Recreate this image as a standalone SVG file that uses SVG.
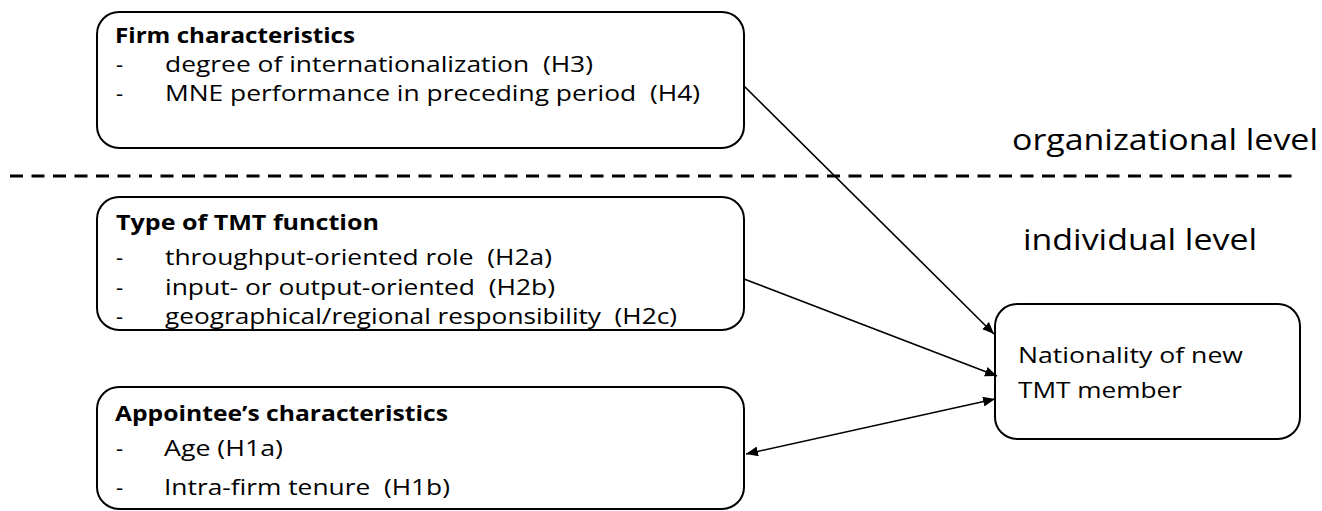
<svg xmlns="http://www.w3.org/2000/svg" width="1322" height="511" viewBox="0 0 1322 511">
<style>
.box{fill:#fff;stroke:#000;stroke-width:2}
.t{font-family:"Open Sans",Lato,sans-serif;font-size:22px;fill:#000;white-space:pre}
.b{font-weight:bold;font-size:22px}
.lvl{font-family:"Open Sans",Lato,sans-serif;font-size:29px;fill:#000}
.c{stroke:#000;stroke-width:1.6;fill:none}
</style>
<defs>
<marker id="ah" viewBox="0 0 12 10" refX="12" refY="5" markerWidth="12" markerHeight="10" markerUnits="userSpaceOnUse" orient="auto-start-reverse"><path d="M0,0 L12,5 L0,10 z" fill="#000"/></marker>
</defs>
<rect x="0" y="0" width="1322" height="511" fill="#fff"/>
<line x1="10" y1="176" x2="1292" y2="176" stroke="#000" stroke-width="3" stroke-dasharray="13,8.5"/>
<text class="lvl" x="1012" y="150" textLength="306" lengthAdjust="spacingAndGlyphs">organizational level</text>
<text class="lvl" x="1023" y="250" textLength="234" lengthAdjust="spacingAndGlyphs">individual level</text>
<g id="firm">
<rect class="box" x="97" y="12" width="647" height="136" rx="22"/>
<text class="t b" x="115" y="43" textLength="240" lengthAdjust="spacingAndGlyphs">Firm characteristics</text>
<text class="t" x="116" y="72">-</text><text class="t" x="165" y="72" textLength="428" lengthAdjust="spacingAndGlyphs">degree of internationalization  (H3)</text>
<text class="t" x="116" y="101">-</text><text class="t" x="165" y="101" textLength="535" lengthAdjust="spacingAndGlyphs">MNE performance in preceding period  (H4)</text>
</g>
<g id="tmt">
<rect class="box" x="97" y="197" width="647" height="133" rx="22"/>
<text class="t b" x="116" y="230" textLength="263" lengthAdjust="spacingAndGlyphs">Type of TMT function</text>
<text class="t" x="116" y="265">-</text><text class="t" x="165" y="265" textLength="387" lengthAdjust="spacingAndGlyphs">throughput-oriented role  (H2a)</text>
<text class="t" x="116" y="295">-</text><text class="t" x="165" y="295" textLength="390" lengthAdjust="spacingAndGlyphs">input- or output-oriented  (H2b)</text>
<text class="t" x="116" y="324">-</text><text class="t" x="165" y="324" textLength="512" lengthAdjust="spacingAndGlyphs">geographical/regional responsibility  (H2c)</text>
</g>
<g id="appointee">
<rect class="box" x="97" y="387" width="647" height="122" rx="22"/>
<text class="t b" x="115" y="421" textLength="333" lengthAdjust="spacingAndGlyphs">Appointee’s characteristics</text>
<text class="t" x="116" y="456">-</text><text class="t" x="164" y="456" textLength="119" lengthAdjust="spacingAndGlyphs">Age (H1a)</text>
<text class="t" x="116" y="495">-</text><text class="t" x="164" y="495" textLength="286" lengthAdjust="spacingAndGlyphs">Intra-firm tenure  (H1b)</text>
</g>
<g id="nationality">
<rect class="box" x="995" y="304" width="305" height="135" rx="22"/>
<text class="t" x="1018" y="363" textLength="225" lengthAdjust="spacingAndGlyphs">Nationality of new</text>
<text class="t" x="1018" y="398" textLength="164" lengthAdjust="spacingAndGlyphs">TMT member</text>
</g>
<g id="connectors">
<line class="c" x1="744" y1="86" x2="994" y2="334" marker-end="url(#ah)"/>
<line class="c" x1="744" y1="279" x2="997" y2="376" marker-end="url(#ah)"/>
<line class="c" x1="746" y1="454" x2="995" y2="399" marker-start="url(#ah)" marker-end="url(#ah)"/>
</g>
</svg>
